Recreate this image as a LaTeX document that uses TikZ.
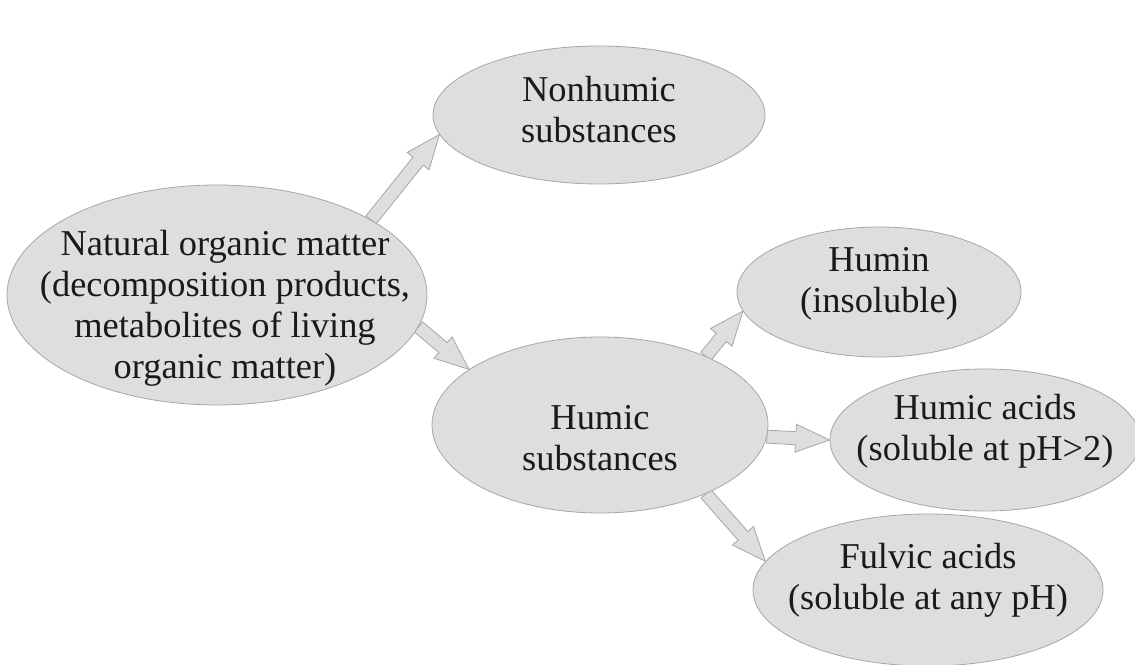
\documentclass[tikz,border=0pt]{standalone}
\usepackage{fontspec}
\setmainfont{Liberation Serif}
\usetikzlibrary{shapes.geometric,calc,backgrounds}
\definecolor{ellfill}{HTML}{DEDEDE}
\definecolor{ellline}{HTML}{A6A6A6}
\definecolor{txt}{HTML}{1A1A1A}
\tikzset{
  bubble/.style={ellipse, draw=ellline, fill=ellfill, line width=0.8pt, inner sep=0pt},
  lbl/.style={align=center, text=txt, inner sep=0pt, font=\fontsize{36.4}{41}\selectfont},
  blockarrow/.style={draw=ellline, fill=ellfill, line width=0.8pt, line join=miter},
}
\newcommand\fatarrow[2]{%
  \path[blockarrow] let \p1=(#1), \p2=(#2), \p3=($(\p2)!34pt!(\p1)$) in
   ($(\p1)!6.5pt!90:(\p2)$) -- ($(\p3)!6.5pt!-90:(\p1)$) -- ($(\p3)!14pt!-90:(\p1)$)
   -- (\p2) -- ($(\p3)!14pt!90:(\p1)$) -- ($(\p3)!6.5pt!90:(\p1)$)
   -- ($(\p1)!6.5pt!-90:(\p2)$) -- cycle;}
\begin{document}
\begin{tikzpicture}[x=1pt,y=1pt]
\useasboundingbox (0,0) rectangle (1135,664);
\clip (0,0) rectangle (1135,664);
\node[bubble, minimum width=420, minimum height=220,
  label={[lbl, xshift=8, yshift=-13]center:{Natural organic matter\\(decomposition products,\\metabolites of living\\organic matter)}}]
  (nom) at (217,369) {};
\node[bubble, minimum width=332, minimum height=138,
  label={[lbl, yshift=5]center:{Nonhumic\\substances}}] (non) at (599,549) {};
\node[bubble, minimum width=336, minimum height=176,
  label={[lbl, yshift=-13]center:{Humic\\substances}}] (hum) at (600,239) {};
\node[bubble, minimum width=284, minimum height=130,
  label={[lbl, yshift=8]center:{Humin\\(insoluble)}}] (hmn) at (879,372) {};
\node[bubble, minimum width=310, minimum height=142,
  label={[lbl, yshift=9]center:{Humic acids\\(soluble at pH>2)}}] (ha) at (985,224) {};
\node[bubble, minimum width=350, minimum height=152,
  label={[lbl, yshift=10]center:{Fulvic acids\\(soluble at any pH)}}] (fa) at (928,74) {};
\begin{pgfonlayer}{background}
\fatarrow{nom.26}{non.187.6}
\fatarrow{nom.-9}{hum.157}
\fatarrow{hum.33}{hmn.188}
\fatarrow{hum.-4.8}{ha.180}
\fatarrow{hum.-33}{fa.170.6}
\end{pgfonlayer}
\end{tikzpicture}
\end{document}
